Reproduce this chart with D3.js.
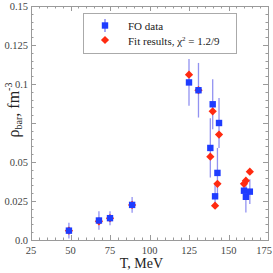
<!DOCTYPE html>
<html lang="en">
<head>
  <meta charset="UTF-8">
  <title>Baryon density vs T</title>
  <style>
    body { margin: 0; background: #fff; }
    #chart { width: 273px; height: 273px; }
    text { font-family: "Liberation Serif", "DejaVu Serif", serif; }
  </style>
  <script src="https://d3js.org/d3.v7.min.js"></script>
</head>
<body>
<div id="chart"></div>
<script>
  // Data
  var temps   = [49, 68, 75, 89, 125, 131, 140, 144, 138.5, 143, 141.5, 159.8, 161, 163.5];
  var foVals  = [0.006, 0.0125, 0.014, 0.0225, 0.101, 0.096, 0.087, 0.075, 0.059, 0.043, 0.028, 0.0316, 0.0277, 0.031];
  var foErrs  = [0.005, 0.006, 0.0045, 0.005, 0.015, 0.0175, 0.016, 0.016, 0.019, 0.016, 0.008, 0.006, 0.01, 0.008];
  var fitVals = [0.006, 0.012, 0.014, 0.0225, 0.106, 0.096, 0.0825, 0.0676, 0.0534, 0.036, 0.022, 0.036, 0.038, 0.0438];
  var xTicks  = [25, 50, 75, 100, 125, 150, 175];
  var yTicks  = [0, 0.025, 0.05, 0.075, 0.1, 0.125, 0.15];
  // the 0.075 label is hidden behind the axis title in the original
  var yTickLabels = ["0.0", "0.025", "0.05", "", "0.1", "0.125", "0.15"];

  var width = 273, height = 273;
  var mLeft = 31, mRight = 268, mTop = 6, mBottom = 240;

  var x = d3.scaleLinear().domain([25, 175]).range([mLeft, mRight]);
  var y = d3.scaleLinear().domain([0, 0.15]).range([mBottom, mTop]);

  var svg = d3.select("#chart").append("svg")
      .attr("width", width)
      .attr("height", height);

  var frameColor = "#9a9a9a";

  // frame
  svg.append("rect")
      .attr("x", mLeft + 0.5).attr("y", mTop + 0.5)
      .attr("width", mRight - mLeft).attr("height", mBottom - mTop)
      .attr("fill", "none").attr("stroke", frameColor).attr("stroke-width", 1);

  // ticks, inward on all sides
  var xMinor = d3.range(25, 175.1, 5);
  var yMinor = d3.range(0, 0.1501, 0.005);
  function isMajor(v, list) { return list.some(function(t) { return Math.abs(t - v) < 1e-6; }); }

  var tickG = svg.append("g").attr("stroke", frameColor).attr("stroke-width", 1);
  xMinor.forEach(function(v) {
    var len = isMajor(v, xTicks) ? 5 : 2.5;
    var px = Math.round(x(v)) + 0.5;
    tickG.append("line").attr("x1", px).attr("x2", px).attr("y1", mBottom).attr("y2", mBottom - len);
    tickG.append("line").attr("x1", px).attr("x2", px).attr("y1", mTop).attr("y2", mTop + len);
  });
  yMinor.forEach(function(v) {
    var len = isMajor(v, yTicks) ? 5 : 2.5;
    var py = Math.round(y(v)) + 0.5;
    tickG.append("line").attr("x1", mLeft).attr("x2", mLeft + len).attr("y1", py).attr("y2", py);
    tickG.append("line").attr("x1", mRight).attr("x2", mRight - len).attr("y1", py).attr("y2", py);
  });

  // tick labels
  svg.append("g").selectAll("text").data(xTicks).join("text")
      .attr("x", function(d) { return Math.min(x(d), 264); })
      .attr("y", mBottom + 14)
      .attr("text-anchor", "middle")
      .attr("font-size", 10.5)
      .attr("fill", "#444")
      .text(function(d) { return d; });

  svg.append("g").selectAll("text").data(yTicks).join("text")
      .attr("x", mLeft - 3)
      .attr("y", function(d) { return y(d) + 3.5; })
      .attr("text-anchor", "end")
      .attr("font-size", 10.5)
      .attr("fill", "#444")
      .text(function(d, i) { return yTickLabels[i]; });

  // axis titles
  svg.append("text")
      .attr("x", (mLeft + mRight) / 2 - 8)
      .attr("y", 268)
      .attr("text-anchor", "middle")
      .attr("font-size", 14)
      .attr("fill", "#222")
      .text("T, MeV");

  var yl = svg.append("text")
      .attr("transform", "translate(19," + 110 + ") rotate(-90)")
      .attr("text-anchor", "middle")
      .attr("font-size", 16)
      .attr("fill", "#222");
  yl.append("tspan").text("ρ");
  yl.append("tspan").attr("font-size", 10).attr("dy", 3).text("bar");
  yl.append("tspan").attr("dy", -3).text(", fm");
  yl.append("tspan").attr("font-size", 10).attr("dy", -7).text("-3");

  var points = temps.map(function(t, i) {
    return { t: t, fo: foVals[i], err: foErrs[i], fit: fitVals[i] };
  });

  // error bars
  svg.append("g").selectAll("line").data(points).join("line")
      .attr("x1", function(d) { return x(d.t); })
      .attr("x2", function(d) { return x(d.t); })
      .attr("y1", function(d) { return y(d.fo - d.err); })
      .attr("y2", function(d) { return y(d.fo + d.err); })
      .attr("stroke", "#7777ee")
      .attr("stroke-opacity", 0.8)
      .attr("stroke-width", 1.3);

  var red = "#ff2a10", blue = "#1e3cff";
  var diamond = d3.symbol().type(d3.symbolSquare).size(34);

  // fit results (red diamonds)
  svg.append("g").selectAll("path").data(points).join("path")
      .attr("d", diamond)
      .attr("transform", function(d) { return "translate(" + x(d.t) + "," + y(d.fit) + ") rotate(45)"; })
      .attr("fill", red);

  // FO data (blue squares)
  svg.append("g").selectAll("rect").data(points).join("rect")
      .attr("x", function(d) { return x(d.t) - 3.2; })
      .attr("y", function(d) { return y(d.fo) - 3.2; })
      .attr("width", 6.4).attr("height", 6.4)
      .attr("fill", blue);

  // legend
  var lg = svg.append("g");
  lg.append("rect")
      .attr("x", 83.5).attr("y", 13.5).attr("width", 153).attr("height", 40)
      .attr("fill", "#fff").attr("stroke", "#aaa");
  lg.append("line").attr("x1", 105).attr("x2", 105).attr("y1", 19).attr("y2", 32)
      .attr("stroke", "#7777ee").attr("stroke-width", 1.3);
  lg.append("rect").attr("x", 101.8).attr("y", 22.3).attr("width", 6.4).attr("height", 6.4).attr("fill", blue);
  lg.append("path").attr("d", diamond).attr("transform", "translate(105,40) rotate(45)").attr("fill", red);
  lg.append("text").attr("x", 128).attr("y", 29.5).attr("font-size", 11).attr("fill", "#222").text("FO data");
  var lt = lg.append("text").attr("x", 128).attr("y", 44.5).attr("font-size", 11).attr("fill", "#222");
  lt.append("tspan").text("Fit results, χ");
  lt.append("tspan").attr("font-size", 7).attr("dy", -4).text("2");
  lt.append("tspan").attr("dy", 4).text(" = 1.2/9");
</script>
</body>
</html>
